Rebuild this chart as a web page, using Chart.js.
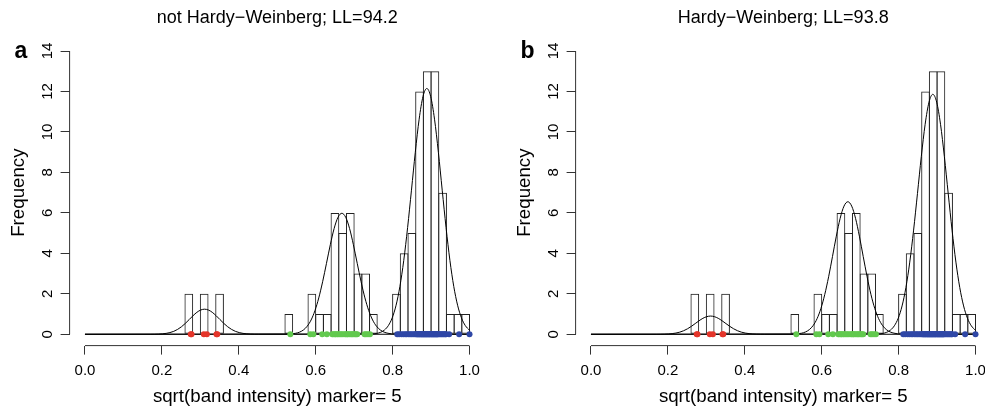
<!DOCTYPE html>
<html><head><meta charset="utf-8">
<script src="https://cdn.jsdelivr.net/npm/chart.js@4"></script>
<style>
html,body{margin:0;padding:0;background:#fff;overflow:hidden;width:985px;height:414px;position:relative;}
.panel{position:absolute;top:0;width:500px;height:414px;}
#pa{left:0}
#pb{left:506px}
</style></head><body>
<div class="panel" id="pa"><canvas id="ca" width="500" height="414"></canvas></div>
<div class="panel" id="pb"><canvas id="cb" width="500" height="414"></canvas></div>
<script>
// ---- data ----
const panelLetters = ['a', 'b'];
const panelTitles = ['not Hardy\u2212Weinberg; LL=94.2', 'Hardy\u2212Weinberg; LL=93.8'];
const xAxisTitle = 'sqrt(band intensity) marker= 5';
const yAxisTitle = 'Frequency';
const xTickVals = [0, 0.2, 0.4, 0.6, 0.8, 1.0];
const yTickVals = [0, 2, 4, 6, 8, 10, 12, 14];

const binWidth = 0.02;
const binLeft  = [0.26,0.30,0.34,0.52,0.58,0.60,0.62,0.64,0.66,0.68,0.70,0.72,0.74,0.80,0.82,0.84,0.86,0.88,0.90,0.92,0.94,0.96,0.98];
const binCount = [2,2,2,1,2,1,1,6,5,6,3,3,1,2,4,5,12,13,13,7,1,1,1];

const redVals = [0.275,0.277,0.309,0.317,0.342,0.344];
const greenVals = [0.534,0.586,0.594,0.617,0.629,0.643,0.646,0.650,0.652,0.656,0.659,0.663,0.667,0.671,0.676,0.679,
  0.682,0.684,0.688,0.692,0.695,0.698,0.702,0.705,0.708,0.727,0.731,0.736,0.741];
const blueVals = [0.812,0.817,0.823,0.828,0.833,0.837,0.842,0.846,0.850,0.854,0.858,
  0.861,0.863,0.865,0.866,0.868,0.870,0.871,0.873,0.875,0.876,0.878,0.879,
  0.881,0.882,0.884,0.885,0.887,0.888,0.890,0.891,0.893,0.894,0.896,0.897,0.899,
  0.901,0.902,0.904,0.905,0.907,0.908,0.910,0.911,0.913,0.914,0.916,0.917,0.919,
  0.922,0.925,0.928,0.931,0.934,0.937,0.939,0.947,0.973,1.000];

// fitted component curves
const lowCurveX  = [0,0.171,0.181,0.191,0.201,0.211,0.221,0.231,0.241,0.251,0.261,0.271,0.281,0.291,0.301,0.311,0.321,0.331,0.341,0.351,0.361,0.371,0.381,0.391,0.401,0.411,0.421,0.431,0.441,0.451,1];
const midCurveX  = [0,0.528,0.538,0.548,0.558,0.568,0.578,0.588,0.598,0.608,0.618,0.628,0.638,0.648,0.658,0.668,0.678,0.688,0.698,0.708,0.718,0.728,0.738,0.748,0.758,0.768,0.778,0.788,0.798,0.808,1];
const highCurveX = [0,0.749,0.759,0.769,0.779,0.789,0.799,0.809,0.819,0.829,0.839,0.849,0.859,0.869,0.879,0.889,0.899,0.909,0.919,0.929,0.939,0.949,0.959,0.969,0.979,0.989,1];

const lowCurveA  = [0,0.002,0.004,0.010,0.022,0.044,0.083,0.146,0.242,0.373,0.538,0.727,0.918,1.085,1.199,1.24,1.199,1.085,0.918,0.727,0.538,0.373,0.242,0.146,0.083,0.044,0.022,0.010,0.004,0.002,0];
const midCurveA  = [0,0.009,0.021,0.049,0.105,0.212,0.400,0.706,1.166,1.798,2.596,3.505,4.428,5.233,5.784,5.98,5.784,5.233,4.428,3.505,2.596,1.798,1.166,0.706,0.400,0.212,0.105,0.049,0.021,0.009,0];
const highCurveA = [0,0.017,0.043,0.099,0.214,0.431,0.813,1.435,2.368,3.653,5.274,7.122,8.997,10.631,11.752,12.15,11.752,10.631,8.997,7.122,5.274,3.653,2.368,1.435,0.813,0.431,0.20];

const lowCurveB  = [0,0.001,0.003,0.007,0.016,0.032,0.060,0.106,0.175,0.271,0.391,0.528,0.666,0.788,0.870,0.90,0.870,0.788,0.666,0.528,0.391,0.271,0.175,0.106,0.060,0.032,0.016,0.007,0.003,0.001,0];
const midCurveB  = [0,0.009,0.023,0.054,0.115,0.233,0.438,0.774,1.277,1.970,2.843,3.840,4.850,5.731,6.335,6.55,6.335,5.731,4.850,3.840,2.843,1.970,1.277,0.774,0.438,0.233,0.115,0.054,0.023,0.009,0];
const highCurveB = [0,0.017,0.042,0.097,0.209,0.421,0.793,1.401,2.312,3.566,5.148,6.952,8.782,10.378,11.471,11.86,11.471,10.378,8.782,6.952,5.148,3.566,2.312,1.401,0.793,0.421,0.19];

// ---- styling ----
const FONT = "'Liberation Sans', Arial, Helvetica, sans-serif";
const colRed = '#e4352a', colGreen = '#62c94e', colBlue = '#2f47a6';

const toXY = (xs, ys) => xs.map((x, i) => ({x: x, y: ys[i]}));
const dots = vals => vals.map(v => ({x: v, y: 0}));

const decor = {
  id: 'decor',
  afterDraw(chart, args, opts) {
    const {ctx, scales: {x, y}} = chart;
    ctx.save();
    ctx.strokeStyle = '#333';
    ctx.lineWidth = 1;
    ctx.beginPath();
    ctx.moveTo(x.getPixelForValue(xTickVals[0]), x.top);
    ctx.lineTo(x.getPixelForValue(xTickVals[xTickVals.length - 1]), x.top);
    ctx.moveTo(y.right, y.getPixelForValue(yTickVals[0]));
    ctx.lineTo(y.right, y.getPixelForValue(yTickVals[yTickVals.length - 1]));
    ctx.stroke();
    ctx.fillStyle = '#000';
    ctx.font = '18px ' + FONT;
    ctx.textAlign = 'center';
    ctx.textBaseline = 'middle';
    ctx.fillText(opts.title, x.getPixelForValue(0.5), 18);
    ctx.font = 'bold 23px ' + FONT;
    ctx.textAlign = 'left';
    ctx.textBaseline = 'alphabetic';
    ctx.fillText(opts.letter, chart.chartArea.left - 55, 58);
    ctx.restore();
  }
};

// widen each bar by one border width so neighbouring bins share a single outline
const sharedEdges = {
  id: 'sharedEdges',
  beforeDatasetsUpdate(chart) {
    const x = chart.scales.x;
    const binPx = Math.abs(x.getPixelForValue(binWidth) - x.getPixelForValue(0));
    chart.data.datasets.forEach(ds => {
      if (ds.type === 'bar') ds.barPercentage = (binPx + ds.borderWidth) / binPx;
    });
  }
};

function makeChart(id, idx, curves) {
  const bars = binLeft.map((l, i) => ({x: l + binWidth / 2, y: binCount[i]}));
  const curveDs = curves.map(c => ({
    type: 'line', data: toXY(c[0], c[1]), borderColor: '#000', borderWidth: 1,
    pointRadius: 0, fill: false, cubicInterpolationMode: 'monotone', order: 2
  }));
  return new Chart(document.getElementById(id), {
    type: 'scatter',
    data: {
      datasets: [
        {type: 'scatter', data: dots(redVals), backgroundColor: colRed, borderWidth: 0, pointRadius: 3, order: 1},
        {type: 'scatter', data: dots(greenVals), backgroundColor: colGreen, borderWidth: 0, pointRadius: 3, order: 1},
        {type: 'scatter', data: dots(blueVals), backgroundColor: colBlue, borderWidth: 0, pointRadius: 3, order: 1},
        ...curveDs,
        {type: 'bar', data: bars, backgroundColor: 'rgba(0,0,0,0)', borderColor: '#222', borderWidth: 1,
         borderSkipped: false, inflateAmount: 0, barPercentage: 1.13, categoryPercentage: 1, order: 3}
      ]
    },
    options: {
      responsive: false, animation: false, events: [],
      devicePixelRatio: 1,
      layout: {autoPadding: false, padding: {left: 0, right: 15.1, top: 39.7, bottom: 0}},
      plugins: {legend: {display: false}, tooltip: {enabled: false}, title: {display: false},
        decor: {title: panelTitles[idx], letter: panelLetters[idx]}},
      scales: {
        x: {
          type: 'linear', min: -0.04, max: 1.04, offset: false,
          afterBuildTicks: s => { s.ticks = xTickVals.map(v => ({value: v})); },
          afterFit: s => { s.height = 68.4; },
          border: {display: false},
          grid: {offset: false, drawOnChartArea: false, drawTicks: true, tickLength: 9, color: '#333', lineWidth: 1},
          ticks: {autoSkip: false, maxRotation: 0, minRotation: 0, padding: 7, color: '#000',
            font: {family: FONT, size: 15}, callback: v => v.toFixed(1)},
          title: {display: true, text: xAxisTitle, color: '#000', font: {family: FONT, size: 18.7},
            padding: {top: 0, bottom: 6}}
        },
        y: {
          type: 'linear', min: -0.56, max: 14.56,
          afterBuildTicks: s => { s.ticks = yTickVals.map(v => ({value: v})); },
          afterFit: s => { s.width = 69.6; },
          border: {display: false},
          grid: {drawOnChartArea: false, drawTicks: true, tickLength: 9, color: '#333', lineWidth: 1},
          ticks: {autoSkip: false, minRotation: 90, maxRotation: 90, crossAlign: 'center', padding: 4,
            color: '#000', font: {family: FONT, size: 15}, callback: v => String(v)},
          title: {display: true, text: yAxisTitle, color: '#000', font: {family: FONT, size: 18.7},
            padding: {top: 8, bottom: 0}}
        }
      }
    },
    plugins: [decor]
  });
}

makeChart('ca', 0, [[lowCurveX, lowCurveA], [midCurveX, midCurveA], [highCurveX, highCurveA]]);
makeChart('cb', 1, [[lowCurveX, lowCurveB], [midCurveX, midCurveB], [highCurveX, highCurveB]]);
</script>
</body></html>
